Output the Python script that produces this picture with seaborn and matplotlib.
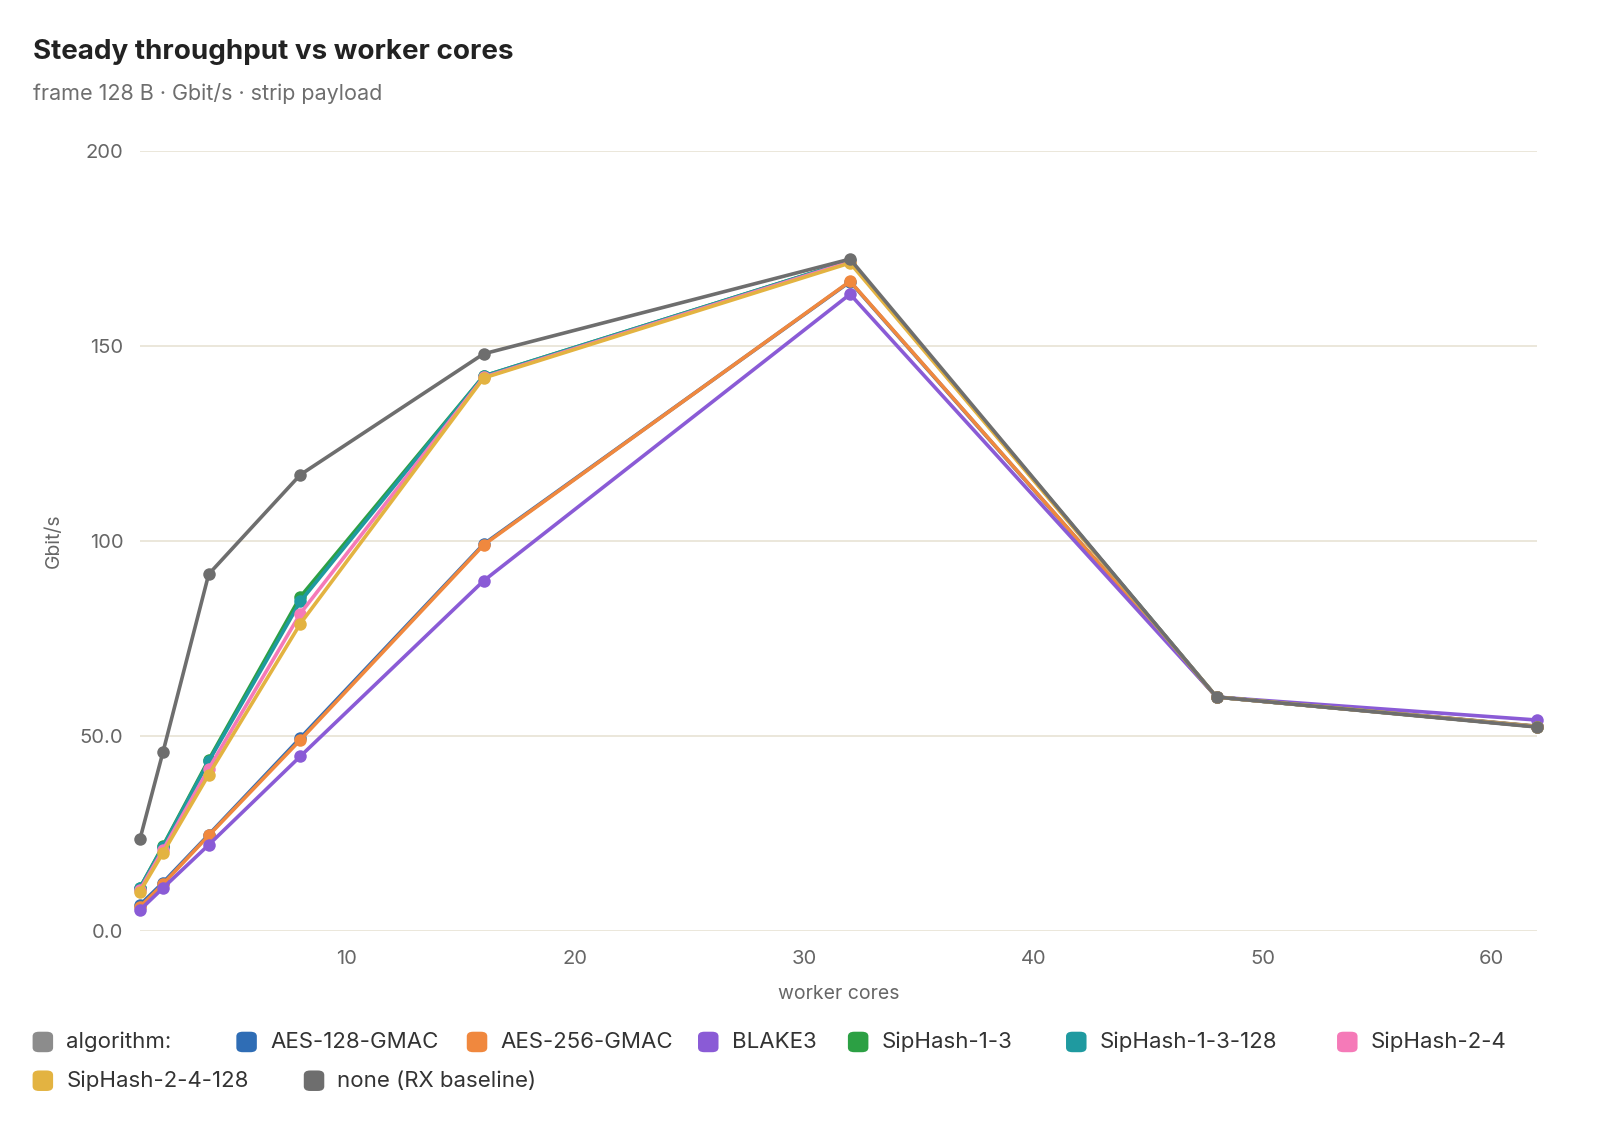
import pandas as pd
import numpy as np
import matplotlib.pyplot as plt
import seaborn as sns
from matplotlib.patches import FancyBboxPatch

# data
cores = [1, 2, 4, 8, 16, 32, 48, 62]
algorithms = ["AES-128-GMAC", "AES-256-GMAC", "BLAKE3", "SipHash-1-3",
              "SipHash-1-3-128", "SipHash-2-4", "SipHash-2-4-128", "none (RX baseline)"]
aes128 = [6.7, 12.4, 24.7, 49.5, 99.2, 166.5, 60.0, 52.5]
aes256 = [6.2, 12.0, 24.5, 49.0, 99.0, 166.6, 60.0, 52.5]
blake3 = [5.4, 11.0, 22.1, 44.8, 89.8, 163.3, 60.0, 54.1]
sip13 = [11.1, 21.8, 43.9, 85.7, 142.3, 171.8, 60.0, 52.4]
sip13_128 = [11.1, 21.6, 43.5, 84.5, 142.3, 171.8, 60.0, 52.4]
sip24 = [10.6, 20.8, 41.6, 81.4, 142.0, 171.6, 60.0, 52.4]
sip24_128 = [10.1, 20.0, 40.1, 78.8, 141.8, 171.3, 60.0, 52.4]
baseline = [23.6, 45.8, 91.5, 117.0, 148.0, 172.3, 60.0, 52.3]

y_ticks = [0, 50, 100, 150, 200]
y_tick_labels = ["0.0", "50.0", "100", "150", "200"]
x_ticks = [10, 20, 30, 40, 50, 60]

colors = ["#2f6db5", "#f0883e", "#8a5bd6", "#2ca044", "#1f9aa0", "#f57ab8", "#e3b341", "#6e6e6e"]

series = [aes128, aes256, blake3, sip13, sip13_128, sip24, sip24_128, baseline]
rows = []
for name, vals in zip(algorithms, series):
    for c, v in zip(cores, vals):
        rows.append({"cores": c, "gbps": v, "algorithm": name})
df = pd.DataFrame(rows)

sns.set_theme(style="white")
plt.rcParams["font.family"] = ["Inter", "DejaVu Sans"]

fig = plt.figure(figsize=(15.98, 11.4), dpi=100)
ax = fig.add_axes([0.0876, 0.1833, 0.962 - 0.0876, 0.8675 - 0.1833])

sns.lineplot(data=df, x="cores", y="gbps", hue="algorithm", hue_order=algorithms,
             palette=colors, marker="o", markersize=9, markeredgewidth=0,
             linewidth=2.6, legend=False, ax=ax, clip_on=False)

ax.set_xlim(1, 62)
ax.set_ylim(0, 200)
ax.set_yticks(y_ticks)
ax.set_yticklabels(y_tick_labels)
ax.set_xticks(x_ticks)
ax.grid(axis="y", color="#e9e5d8", linewidth=1.3)
ax.set_axisbelow(True)
for s in ax.spines.values():
    s.set_visible(False)
ax.tick_params(axis="both", length=0, labelsize=14.5, labelcolor="#666666")
ax.tick_params(axis="y", pad=12)
ax.tick_params(axis="x", pad=14)
ax.set_xlabel("worker cores", fontsize=14, color="#666666", labelpad=12)
ax.set_ylabel("Gbit/s", fontsize=14, color="#666666", labelpad=12)

fig.text(0.0206, 0.954, "Steady throughput vs worker cores", fontsize=20,
         fontweight="bold", color="#222222", va="center")
fig.text(0.0206, 0.918, "frame 128 B · Gbit/s · strip payload", fontsize=15.5,
         color="#6e6e6e", va="center")

# legend laid out as a flowing row, like the reference
legend_labels = ["algorithm:"] + algorithms
legend_colors = ["#8c8c8c"] + colors
legend_x = [0.0204, 0.1479, 0.2921, 0.4368, 0.5306, 0.6671, 0.8367, 0.0204, 0.1901]
legend_y = [0.0860, 0.0860, 0.0860, 0.0860, 0.0860, 0.0860, 0.0860, 0.0520, 0.0520]
w, h = 20.5 / 1598, 20.5 / 1140
for lab, col, lx, ly in zip(legend_labels, legend_colors, legend_x, legend_y):
    fig.patches.append(FancyBboxPatch((lx, ly - h / 2), w, h,
                                      boxstyle="round,pad=0,rounding_size=0.004",
                                      transform=fig.transFigure, facecolor=col,
                                      edgecolor="none"))
    fig.text(lx + 33.6 / 1598, ly, lab, fontsize=16, color="#333333", va="center")

fig.savefig("out.png", dpi=100)
